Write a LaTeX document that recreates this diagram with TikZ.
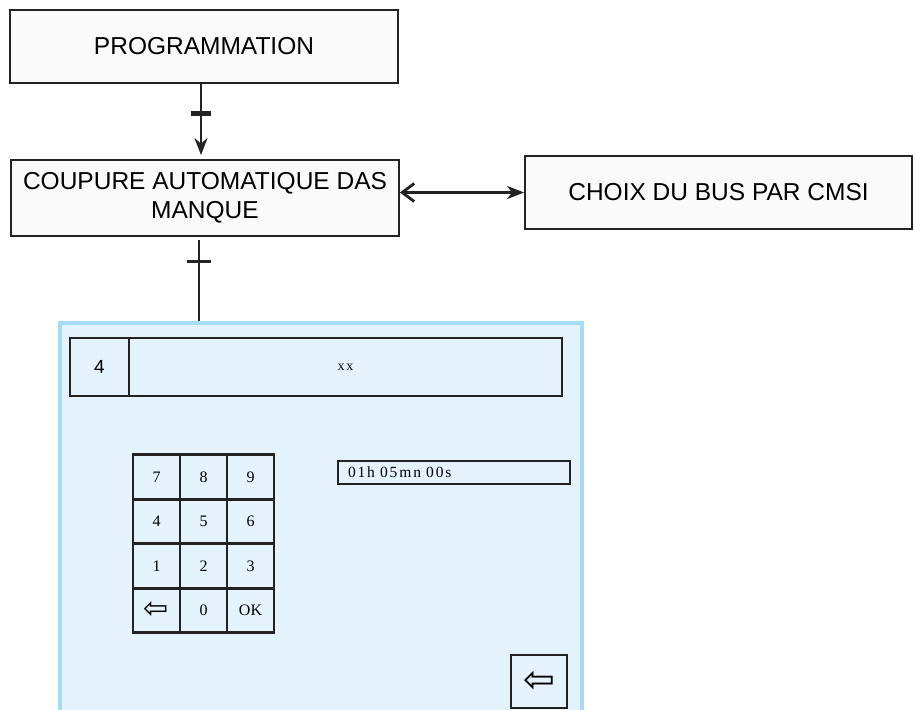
\documentclass[tikz,border=0pt]{standalone}
\usepackage{fontspec}
\setmainfont{Liberation Serif}
\setsansfont{Liberation Sans}
\newfontfamily\symfont{DejaVu Sans}
\newfontfamily\spacedfont[LetterSpace=12,WordSpace=1.8]{Liberation Serif}
\usetikzlibrary{arrows.meta}

\definecolor{panelfill}{RGB}{229,244,252}
\definecolor{panelline}{RGB}{166,220,246}
\definecolor{boxfill}{RGB}{250,250,250}
\definecolor{ink}{RGB}{35,35,35}

\begin{document}
\begin{tikzpicture}[x=1pt, y=-1pt,
    flowbox/.style={draw=ink, line width=1.8pt, fill=boxfill, inner sep=0pt,
        align=center, font=\sffamily\fontsize{24.5}{28.5}\selectfont},
    flowline/.style={draw=ink, line width=2.8pt},
    crossbar/.style={draw=ink, minimum width=18pt, inner sep=0pt, outer sep=0pt},
    screen/.style={draw=panelline, line width=4pt, fill=panelfill, inner sep=0pt},
    field/.style={draw=ink, line width=2.7pt, fill=panelfill, inner sep=0pt},
    key/.style={field, minimum width=47pt, minimum height=44.5pt,
        font=\fontsize{16}{18}\selectfont},
]
    \useasboundingbox (0,0) rectangle (915,709);

    \node (prog) at (204, 46.5) [flowbox, minimum width=388pt, minimum height=73pt] {PROGRAMMATION};
    \node (coup) at (205, 198) [flowbox, minimum width=388pt, minimum height=76pt] {COUPURE AUTOMATIQUE DAS\\MANQUE};
    \node (choix) at (718.5, 192.5) [flowbox, minimum width=387pt, minimum height=73pt] {CHOIX DU BUS PAR CMSI};

    \node (panel) at (321, 521.5) [screen, minimum width=522pt, minimum height=397pt] {};

    \node (num) at (99.5, 367) [field, minimum width=59pt, minimum height=58pt, font=\sffamily\fontsize{19}{21}\selectfont] {4};
    \node (name) at (345.5, 367) [field, minimum width=433pt, minimum height=58pt, font=\spacedfont\fontsize{14}{16}\selectfont] {xx};

    \node (k7) at (156.5, 477) [key] {7};
    \node (k8) at (203.5, 477) [key] {8};
    \node (k9) at (250.5, 477) [key] {9};
    \node (k4) at (156.5, 521.5) [key] {4};
    \node (k5) at (203.5, 521.5) [key] {5};
    \node (k6) at (250.5, 521.5) [key] {6};
    \node (k1) at (156.5, 566) [key] {1};
    \node (k2) at (203.5, 566) [key] {2};
    \node (k3) at (250.5, 566) [key] {3};
    \node (kdel) at (156.5, 610.5) [key, font=\symfont\fontsize{30}{30}\selectfont] {⇦};
    \node (k0) at (203.5, 610.5) [key] {0};
    \node (kok) at (250.5, 610.5) [key] {OK};

    \node (timer) at (454, 472.5) [field, minimum height=23pt, text width=212pt, inner xsep=10pt, align=left,
        font=\spacedfont\fontsize{15.5}{17}\selectfont] {01h 05mn 00s};

    \node (back) at (539, 681.5) [field, minimum width=56pt, minimum height=53pt,
        font=\symfont\fontsize{38}{38}\selectfont] {⇦};

    \draw[flowline, -{Stealth[length=17pt, width=13pt]}, shorten >=4pt]
        ([xshift=-3pt]prog.south) -- node[pos=0.39, crossbar, minimum width=16pt, line width=4pt] {} ([xshift=-4pt]coup.north);
    \draw[flowline, shorten <=3pt]
        ([xshift=-6pt]coup.south) -- node[pos=0.29, crossbar, minimum width=21pt, line width=2.4pt] {} ([xshift=-6pt]coup.south |- panel.north);
    \draw[flowline, {Straight Barb[length=12pt, width=18pt]}-{Stealth[length=17pt, width=13pt, inset=5pt]}]
        (coup.east |- choix.west) -- (choix.west);

\end{tikzpicture}
\end{document}
